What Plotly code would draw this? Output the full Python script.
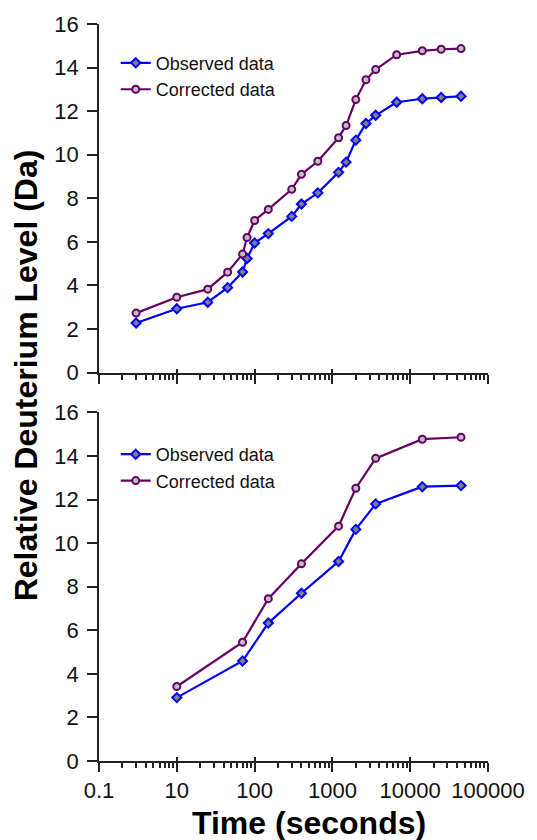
import plotly.graph_objects as go

# ---- data ----
time_top = [3, 10, 25, 45, 70, 80, 100, 150, 300, 400, 650, 1200, 1500, 2000, 2700, 3600, 6700, 14300, 25000, 45000]
observed_top = [2.28, 2.93, 3.23, 3.90, 4.62, 5.24, 5.95, 6.38, 7.17, 7.74, 8.25, 9.19, 9.66, 10.67, 11.43, 11.81, 12.41, 12.57, 12.63, 12.68]
corrected_top = [2.73, 3.46, 3.83, 4.61, 5.44, 6.20, 6.98, 7.49, 8.41, 9.10, 9.70, 10.78, 11.34, 12.53, 13.44, 13.91, 14.59, 14.77, 14.84, 14.87]

time_bottom = [10, 70, 150, 400, 1200, 2000, 3600, 14300, 45000]
observed_bottom = [2.91, 4.59, 6.33, 7.70, 9.16, 10.63, 11.80, 12.59, 12.64]
corrected_bottom = [3.42, 5.45, 7.45, 9.05, 10.78, 12.52, 13.89, 14.77, 14.86]

x_tickvals = [1, 10, 100, 1000, 10000, 100000]
x_ticktext = ["0.1", "10", "100", "1000", "10000", "100000"]
y_ticks = [0, 2, 4, 6, 8, 10, 12, 14, 16]

FONT = "Liberation Sans, Arial, sans-serif"
AXC = "#222222"
BLUE = "#0000FF"
PURPLE = "#660066"

def obs_trace(x, y, xa, ya, legend, show):
    return go.Scatter(x=x, y=y, mode="lines+markers", name="Observed data",
                      xaxis=xa, yaxis=ya, legend=legend, showlegend=show,
                      line=dict(color=BLUE, width=2.2),
                      marker=dict(symbol="diamond", size=7, color="#808080",
                                  line=dict(color=BLUE, width=2)),
                      cliponaxis=False)

def cor_trace(x, y, xa, ya, legend, show):
    return go.Scatter(x=x, y=y, mode="lines+markers", name="Corrected data",
                      xaxis=xa, yaxis=ya, legend=legend, showlegend=show,
                      line=dict(color=PURPLE, width=2.2),
                      marker=dict(symbol="circle", size=7, color="#C0C0C0",
                                  line=dict(color=PURPLE, width=2)),
                      cliponaxis=False)

fig = go.Figure()
fig.add_trace(obs_trace(time_top, observed_top, "x", "y", "legend", True))
fig.add_trace(cor_trace(time_top, corrected_top, "x", "y", "legend", True))
fig.add_trace(obs_trace(time_bottom, observed_bottom, "x2", "y2", "legend2", True))
fig.add_trace(cor_trace(time_bottom, corrected_bottom, "x2", "y2", "legend2", True))

top_dom = [0.527, 1.0]
bot_dom = [0.0, 0.473]

def xaxis_common(anchor, labels):
    return dict(type="log", range=[0, 5], anchor=anchor, domain=[0, 1],
                tickmode="array", tickvals=x_tickvals, ticktext=x_ticktext,
                showticklabels=labels, ticks="outside", ticklen=9, tickwidth=1.5,
                tickcolor=AXC, showline=True, linecolor=AXC, linewidth=1.8,
                showgrid=False, zeroline=False,
                tickfont=dict(family=FONT, size=22, color="#111111"),
                minor=dict(ticks="outside", ticklen=5, tickwidth=1.5, tickcolor=AXC,
                           dtick="D1", showgrid=False))

def yaxis_common(anchor, dom):
    return dict(range=[0, 16], domain=dom, anchor=anchor, tickmode="array",
                tickvals=y_ticks, ticks="outside", ticklen=10, tickwidth=1.5,
                tickcolor=AXC, showline=True, linecolor=AXC, linewidth=1.8,
                showgrid=False, zeroline=False, ticklabelstandoff=4,
                tickfont=dict(family=FONT, size=22, color="#111111"))

def overlay_x(over, anchor):
    return dict(type="log", range=[0, 5], overlaying=over, anchor=anchor,
                tickmode="array", tickvals=x_tickvals, showticklabels=False,
                ticks="inside", ticklen=4, tickwidth=1.5, tickcolor=AXC,
                showline=False, showgrid=False, zeroline=False)

fig.update_layout(
    width=537, height=840,
    margin=dict(l=99, r=46, t=19, b=79),
    paper_bgcolor="white", plot_bgcolor="white",
    font=dict(family=FONT, color="#111111"),
    xaxis=xaxis_common("y", False),
    xaxis2=xaxis_common("y2", True),
    xaxis3=overlay_x("x", "y"),
    xaxis4=overlay_x("x2", "y2"),
    yaxis=yaxis_common("x", top_dom),
    yaxis2=yaxis_common("x2", bot_dom),
    legend=dict(x=0.043, y=0.972, xanchor="left", yanchor="top",
                bgcolor="rgba(0,0,0,0)", font=dict(family=FONT, size=18, color="#111111"),
                tracegroupgap=0, itemwidth=30),
    legend2=dict(x=0.043, y=0.441, xanchor="left", yanchor="top",
                 bgcolor="rgba(0,0,0,0)", font=dict(family=FONT, size=18, color="#111111"),
                 tracegroupgap=0, itemwidth=30),
    annotations=[
        dict(text="<b>Relative Deuterium Level (Da)</b>", textangle=-90,
             xref="paper", yref="paper", x=-0.189, y=0.524,
             xanchor="center", yanchor="middle", showarrow=False,
             font=dict(family=FONT, size=32, color="#000000")),
        dict(text="<b>Time (seconds)</b>",
             xref="paper", yref="paper", x=0.541, y=-0.0836,
             xanchor="center", yanchor="middle", showarrow=False,
             font=dict(family=FONT, size=32, color="#000000")),
    ],
)

# invisible traces to activate the overlay (crossing major tick) axes
fig.add_trace(go.Scatter(x=[1], y=[0], xaxis="x3", yaxis="y", mode="markers",
                         marker=dict(opacity=0), showlegend=False, hoverinfo="skip"))
fig.add_trace(go.Scatter(x=[1], y=[0], xaxis="x4", yaxis="y2", mode="markers",
                         marker=dict(opacity=0), showlegend=False, hoverinfo="skip"))

fig.write_html("out.html", config={"displayModeBar": False},
               post_script="document.body.style.margin='0';document.body.style.overflow='hidden';")
